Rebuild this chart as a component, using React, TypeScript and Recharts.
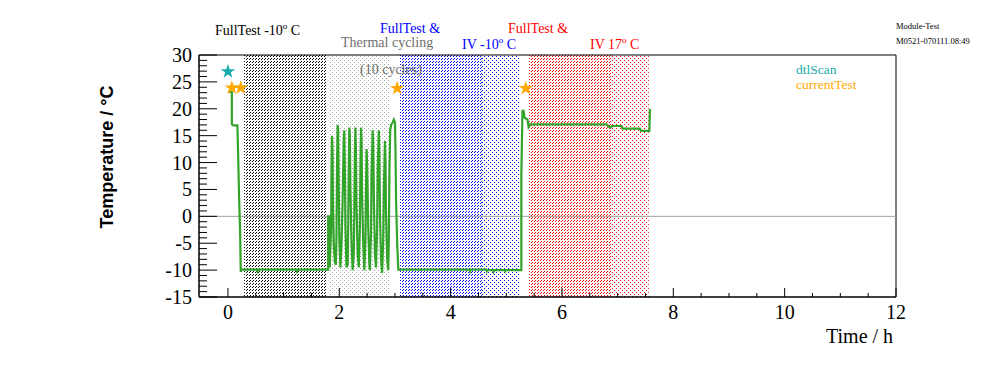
import React from 'react'
import { ComposedChart, Line, Scatter, XAxis, YAxis, ReferenceArea, ReferenceLine } from 'recharts'

// module temperature, [time / h, temperature / °C]
const coolDown = [
  [0.0, 23.2], [0.07, 23.1], [0.07, 17.2], [0.09, 16.9], [0.17, 16.9], [0.18, 12.9],
  [0.2, 3.6], [0.22, -3.5], [0.23, -10.3], [0.25, -9.9], [0.52, -9.9], [0.53, -10.2],
  [0.54, -9.9], [1.23, -9.9], [1.24, -10.2], [1.25, -9.9], [1.8, -9.9],
]

const thermalCycling = [
  [1.8, 0], [1.82, 0], [1.83, -9.5], [1.84, -6], [1.855, -2], [1.86, 8], [1.87, 15], [1.88, 12],
  [1.885, 3], [1.9, -5], [1.92, -8.5], [1.94, -9], [1.95, -3], [1.96, 10], [1.97, 17], [1.98, 16],
  [1.99, 6], [2.0, -4], [2.02, -9.5], [2.04, -5], [2.06, 3], [2.08, 14], [2.09, 16], [2.1, 9],
  [2.11, -2], [2.13, -9.5], [2.15, -9], [2.16, -2], [2.17, 9], [2.18, 16.5], [2.19, 15], [2.2, 5],
  [2.22, -5], [2.24, -10], [2.26, -7], [2.27, 1], [2.28, 12], [2.29, 16.5], [2.3, 12], [2.31, 2],
  [2.33, -7], [2.35, -9.5], [2.37, -2], [2.38, 10], [2.39, 16.5], [2.4, 14], [2.41, 4], [2.43, -5],
  [2.45, -10], [2.47, -4], [2.48, 5], [2.49, 12.5], [2.5, 10], [2.52, -2], [2.54, -9], [2.55, -10],
  [2.57, -3], [2.58, 8], [2.6, 16], [2.61, 13], [2.62, 4], [2.64, -7], [2.66, -9.5], [2.68, -2],
  [2.69, 9], [2.71, 16], [2.72, 12], [2.73, 1], [2.75, -8], [2.77, -10.5], [2.79, -4], [2.8, 5],
  [2.82, 14], [2.83, 10], [2.84, 0], [2.86, -8], [2.88, -10], [2.89, -4], [2.9, 8], [2.915, 16],
  [2.93, 17], [2.96, 17.5], [2.98, 18], [3.0, 17.5], [3.01, 12], [3.02, 3], [3.04, -5], [3.06, -9.9],
]

const coldRun = [
  [4.34, -9.9], [4.35, -10.2], [4.36, -9.9], [4.64, -9.9], [4.65, -10.2], [4.66, -10],
  [4.76, -10], [4.77, -10.3], [4.78, -10], [4.97, -10], [4.98, -10.2], [4.99, -10], [5.27, -10],
]

const warmRun = [
  [5.27, 7.5], [5.29, 19.6], [5.31, 19.6], [5.33, 18.3], [5.38, 18.0], [5.4, 16.6],
  [5.43, 17.1], [6.8, 17.1], [6.84, 16.7], [6.87, 16.5], [6.9, 16.8], [7.07, 16.8],
  [7.09, 16.3], [7.4, 16.3], [7.42, 15.9], [7.57, 15.9], [7.58, 19.9], [7.59, 19.7],
]

// markers
const dtlScan = [[0.0, 26.9]]
const currentTest = [[0.07, 23.9], [0.23, 23.9], [3.04, 23.8], [5.35, 23.8]]

// test phases (h)
const phaseStart = [0.29, 1.81, 3.09, 4.56, 5.41, 6.88]
const phaseEnd = [1.76, 2.9, 4.56, 5.23, 6.88, 7.56]
const phaseFill = ['hatchBlack', 'dotsGray', 'hatchBlue', 'dotsBlue', 'hatchRed', 'dotsRed']

const xTicks = [0, 0.5, 1, 1.5, 2, 2.5, 3, 3.5, 4, 4.5, 5, 5.5, 6, 6.5, 7, 7.5, 8, 8.5, 9, 9.5, 10, 10.5, 11, 11.5, 12]
const yTicks = Array.from({ length: 46 }, (_, i) => -15 + i)

const toRows = (pts: number[][]) => pts.map(([t, T]) => ({ t, T }))
const trace = toRows([...coolDown, ...thermalCycling, ...coldRun, ...warmRun])

const serif = '"Liberation Serif", "Times New Roman", serif'

function XTick(props: any) {
  const { x, y, payload } = props
  const major = payload.value % 2 === 0
  return (
    <g>
      <line x1={x} x2={x} y1={y} y2={y - (major ? 9 : 4)} stroke="#000" />
      {major && (
        <text x={x} y={y + 22} textAnchor="middle" fontSize={20} fontFamily={serif} fill="#000">
          {payload.value}
        </text>
      )}
    </g>
  )
}

function YTick(props: any) {
  const { x, y, payload } = props
  const major = payload.value % 5 === 0
  return (
    <g>
      <line x1={x} x2={x + (major ? 18 : 8)} y1={y} y2={y} stroke="#000" />
      {major && (
        <text x={x - 7} y={y} dy="0.35em" textAnchor="end" fontSize={20} fontFamily={serif} fill="#000">
          {payload.value}
        </text>
      )}
    </g>
  )
}

function Patterns() {
  const hatch = (id: string, c: string) => (
    <pattern id={id} width={3} height={3} patternUnits="userSpaceOnUse">
      <rect x={0} y={2} width={1} height={1} fill={c} />
      <rect x={1} y={1} width={1} height={1} fill={c} />
    </pattern>
  )
  const dots = (id: string, c: string) => (
    <pattern id={id} width={4} height={4} patternUnits="userSpaceOnUse">
      <rect x={0} y={0} width={1} height={1} fill={c} />
      <rect x={2} y={2} width={1} height={1} fill={c} />
    </pattern>
  )
  return (
    <svg width={0} height={0} style={{ position: 'absolute' }}>
      <defs>
        {hatch('hatchBlack', '#000')}
        {hatch('hatchBlue', '#0000ff')}
        {hatch('hatchRed', '#ff0000')}
        {dots('dotsGray', '#a3aea3')}
        {dots('dotsBlue', '#0000ff')}
        {dots('dotsRed', '#ff0000')}
      </defs>
    </svg>
  )
}

const note = (left: number, top: number, color: string, size = 14): React.CSSProperties => ({
  position: 'absolute', left, top, color, fontSize: size, fontFamily: serif, whiteSpace: 'nowrap', lineHeight: 1,
})

export default function App() {
  return (
    <div style={{ position: 'absolute', left: 0, top: 0, width: 996, height: 372, background: '#fff' }}>
      <Patterns />
      <ComposedChart width={996} height={372} margin={{ top: 55, right: 100, bottom: 35, left: 139 }}>
        <XAxis
          dataKey="t"
          type="number"
          domain={[-0.52, 12]}
          allowDataOverflow
          ticks={xTicks}
          interval={0}
          height={40}
          tickSize={0}
          tickMargin={0}
          tickLine={false}
          tick={<XTick />}
          axisLine={{ stroke: '#000' }}
        />
        <YAxis
          type="number"
          domain={[-15, 30]}
          allowDataOverflow
          ticks={yTicks}
          interval={0}
          width={60}
          tickSize={0}
          tickMargin={0}
          tickLine={false}
          tick={<YTick />}
          axisLine={{ stroke: '#000' }}
        />
        {phaseStart.map((s, i) => (
          <ReferenceArea
            key={i}
            x1={s}
            x2={phaseEnd[i]}
            y1={-15}
            y2={30}
            fill={`url(#${phaseFill[i]})`}
            fillOpacity={1}
            stroke="none"
          />
        ))}
        <ReferenceLine y={0} stroke="#a0a0a0" />
        <ReferenceArea x1={-0.52} x2={12} y1={-15} y2={30} fill="none" stroke="#000" />
        <Line
          data={trace}
          dataKey="T"
          type="linear"
          stroke="#32a42a"
          strokeWidth={2.2}
          dot={false}
          isAnimationActive={false}
        />
        <Scatter data={toRows(dtlScan)} dataKey="T" fill="#17abab" shape="star" size={250} isAnimationActive={false} />
        <Scatter data={toRows(currentTest)} dataKey="T" fill="#ffa800" shape="star" size={250} isAnimationActive={false} />
      </ComposedChart>

      <div style={note(215, 22, '#000')}>FullTest -10<sup style={{ fontSize: 9 }}>o</sup> C</div>
      <div style={note(380, 22, '#0000ff')}>FullTest &amp;</div>
      <div style={note(341, 36, '#6e6e6e')}>Thermal cycling</div>
      <div style={note(462, 36, '#0000ff')}>IV -10<sup style={{ fontSize: 9 }}>o</sup> C</div>
      <div style={note(508, 22, '#ff0000')}>FullTest &amp;</div>
      <div style={note(590, 36, '#ff0000')}>IV 17<sup style={{ fontSize: 9 }}>o</sup> C</div>
      <div style={note(360, 63, '#6e6e6e')}>(10 cycles)</div>
      <div style={note(896, 22, '#000', 8.5)}>Module-Test</div>
      <div style={note(896, 37, '#000', 8.5)}>M0521-070111.08:49</div>
      <div style={note(796, 63, '#17abab', 13.5)}>dtlScan</div>
      <div style={note(796, 78, '#ffa800', 13.5)}>currentTest</div>
      <div style={note(826, 326, '#000', 20)}>Time / h</div>
      <div
        style={{
          position: 'absolute', left: 107, top: 157, transform: 'translate(-50%, -50%) rotate(-90deg)',
          fontFamily: '"Liberation Sans", Arial, sans-serif', fontWeight: 'bold', fontSize: 18,
          whiteSpace: 'nowrap', color: '#000',
        }}
      >
        Temperature / °C
      </div>
    </div>
  )
}
